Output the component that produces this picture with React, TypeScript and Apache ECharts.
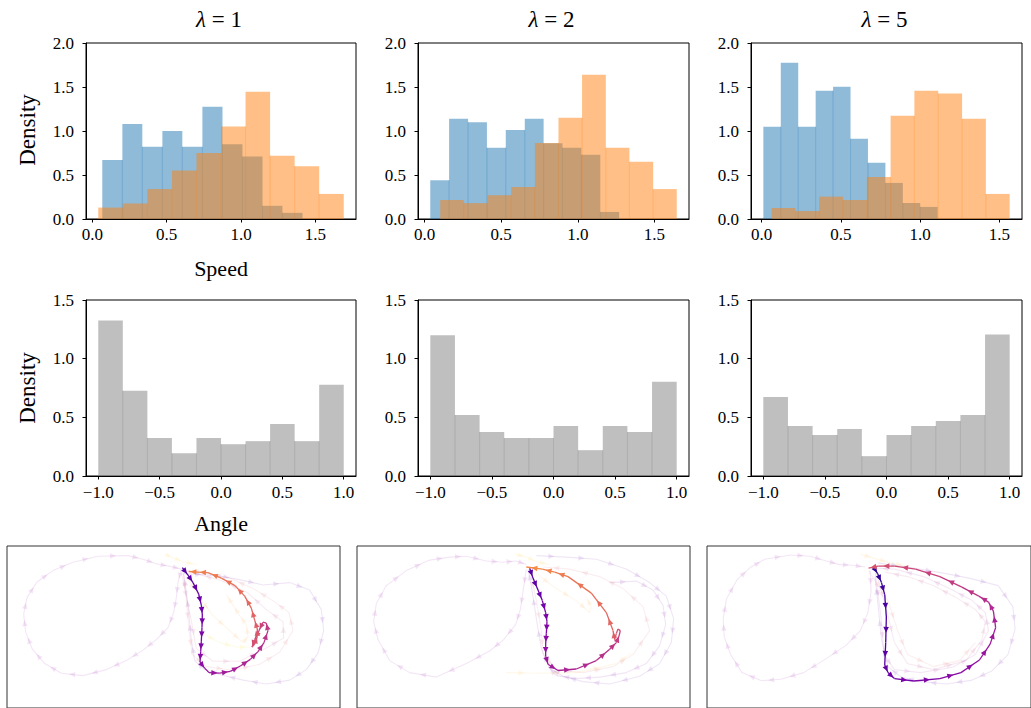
import React, { useEffect, useRef } from 'react';
import * as echarts from 'echarts';

// ---------- tick labels / titles ----------
const speedTicks = [0, 0.5, 1.0, 1.5];
const angleTicks = [-1.0, -0.5, 0.0, 0.5, 1.0];
const lambdaValues = ['1', '2', '5'];

// ---------- speed histograms (blue = C0, orange = C1) ----------
const speedBlueEdges1 = [0.067, 0.202, 0.336, 0.471, 0.605, 0.740, 0.875, 1.009, 1.144, 1.278, 1.413];
const speedBlueHeights1 = [0.67, 1.08, 0.82, 1.00, 0.82, 1.275, 0.85, 0.71, 0.15, 0.07];
const speedOrangeEdges1 = [0.040, 0.205, 0.370, 0.535, 0.700, 0.865, 1.030, 1.195, 1.360, 1.525, 1.690];
const speedOrangeHeights1 = [0.13, 0.175, 0.34, 0.55, 0.75, 1.05, 1.445, 0.72, 0.60, 0.285];

const speedBlueEdges2 = [0.037, 0.160, 0.284, 0.407, 0.530, 0.654, 0.777, 0.900, 1.023, 1.147, 1.270];
const speedBlueHeights2 = [0.44, 1.14, 1.10, 0.81, 1.01, 1.14, 0.86, 0.81, 0.73, 0.08];
const speedOrangeEdges2 = [0.102, 0.256, 0.411, 0.565, 0.720, 0.874, 1.028, 1.183, 1.337, 1.492, 1.646];
const speedOrangeHeights2 = [0.216, 0.18, 0.27, 0.364, 0.865, 1.15, 1.64, 0.81, 0.65, 0.34];

const speedBlueEdges3 = [0.011, 0.121, 0.231, 0.341, 0.451, 0.561, 0.671, 0.781, 0.891, 1.001, 1.111];
const speedBlueHeights3 = [1.047, 1.776, 1.047, 1.457, 1.503, 0.911, 0.638, 0.41, 0.182, 0.137];
const speedOrangeEdges3 = [0.063, 0.213, 0.363, 0.514, 0.664, 0.814, 0.964, 1.114, 1.265, 1.415, 1.565];
const speedOrangeHeights3 = [0.125, 0.09, 0.254, 0.216, 0.478, 1.173, 1.457, 1.427, 1.138, 0.285];

const speedXRange1 = [-0.0425, 1.7725];
const speedXRange2 = [-0.043, 1.726];
const speedXRange3 = [-0.067, 1.643];

// ---------- angle histograms ----------
const angleEdges = [-1.0, -0.8, -0.6, -0.4, -0.2, 0.0, 0.2, 0.4, 0.6, 0.8, 1.0];
const angleHeights1 = [1.326, 0.726, 0.323, 0.194, 0.323, 0.271, 0.297, 0.443, 0.297, 0.777];
const angleHeights2 = [1.20, 0.52, 0.374, 0.323, 0.323, 0.426, 0.22, 0.426, 0.374, 0.803];
const angleHeights3 = [0.674, 0.426, 0.349, 0.40, 0.169, 0.349, 0.426, 0.469, 0.52, 1.206];

// ---------- trajectories (x, y in panel units) ----------
const traj1Highlight = [[548,90],[565,115],[580,140],[597,178],[605,215],[608,248],[607,290],[605,335],[603,370],[601,405],[615,425],[628,440],[660,442],[692,436],[722,418],[752,396],[775,370],[793,340],[805,300],[800,275],[790,272],[778,300],[765,330],[757,355],[765,345],[773,320],[773,295],[765,265],[755,225],[735,185],[706,150],[665,125],[625,107],[595,105],[567,103]];
const traj1Faded = [
  [[545,95],[535,140],[530,190],[522,240],[505,290],[470,330],[430,365],[380,400],[320,430],[250,450],[185,442],[135,410],[98,362],[78,305],[72,245],[82,190],[112,138],[160,100],[220,72],[295,52],[385,50],[430,62],[472,78],[512,86],[545,95]],
  [[552,110],[640,115],[720,130],[790,148],[870,140],[930,165],[965,230],[972,300],[955,375],[920,430],[870,465],[800,478],[730,465],[665,448],[615,430],[585,400],[575,330],[568,250],[560,170],[552,110]],
  [[550,100],[560,200],[568,300],[578,380],[620,420],[700,432],[780,412],[840,372],[880,300],[868,240],[820,200],[760,160],[690,125],[620,108],[555,100]],
  [[545,105],[572,250],[590,360],[640,402],[720,402],[800,358],[852,325],[850,270],[800,230],[742,172],[662,132],[590,110]],
  [[560,120],[600,190],[640,250],[690,300],[730,340],[745,320],[740,280],[720,250],[700,215],[680,180]],
  [[495,45],[520,58],[550,70],[590,80]],
  [[610,310],[660,340],[710,355],[750,355]],
];
const traj1FadedT = [0.3, 0.2, 0.55, 0.45, 0.8, 0.9, 0.95];

const traj2Highlight = [[540,92],[550,125],[565,165],[578,200],[588,240],[592,270],[590,310],[588,345],[588,385],[595,412],[625,433],[680,428],[740,400],[780,362],[800,340],[808,318],[812,300],[805,295],[800,310],[795,330],[790,300],[770,240],[725,175],[655,120],[615,105],[578,95],[530,88]];
const traj2Faded = [
  [[530,95],[520,170],[512,230],[498,280],[462,330],[420,368],[350,410],[260,455],[180,440],[120,400],[85,330],[72,270],[80,210],[110,150],[170,100],[240,65],[300,55],[350,52],[410,68],[460,72],[500,68],[530,80]],
  [[560,50],[650,55],[740,62],[830,95],[900,140],[950,185],[972,260],[965,340],[930,410],[870,452],[780,478],[700,470],[640,452],[600,425],[575,360],[560,260],[545,150],[535,95]],
  [[780,140],[860,135],[910,165],[940,215],[948,280],[930,350],[890,410],[830,440],[750,455],[680,460],[620,450],[595,420]],
  [[540,95],[560,200],[575,300],[580,380],[620,430],[700,440],[790,420],[850,380],[900,300],[880,220],[820,160],[750,120],[660,95],[580,88]],
  [[470,440],[560,442],[680,440],[800,410],[845,375]],
  [[560,110],[620,160],[680,200],[720,240],[725,220],[710,190]],
  [[495,45],[530,55],[560,70],[600,80]],
];
const traj2FadedT = [0.3, 0.2, 0.25, 0.55, 0.85, 0.8, 0.9];

const traj3Highlight = [[535,87],[548,110],[560,140],[570,180],[575,255],[573,340],[570,415],[580,440],[600,460],[660,468],[740,460],[805,440],[862,398],[895,345],[912,290],[905,235],[890,205],[860,185],[808,155],[740,120],[665,95],[600,85],[550,85],[520,92]];
const traj3Faded = [
  [[525,100],[528,170],[518,240],[495,300],[450,350],[380,400],[320,440],[250,462],[190,467],[130,440],[95,380],[75,320],[72,260],[82,195],[115,130],[155,90],[200,62],[280,48],[340,52],[390,68],[430,80],[470,82],[510,88]],
  [[550,75],[650,90],[760,110],[830,125],[920,150],[965,220],[972,295],[950,380],[900,435],[840,465],[760,478],[680,470],[620,455],[580,420],[560,330],[550,220],[540,120]],
  [[540,100],[558,250],[568,380],[600,430],[680,440],[780,422],[850,380],[890,300],[880,240],[840,200],[770,160],[690,120],[600,95],[545,92]],
  [[545,110],[580,250],[600,340],[640,410],[720,430],[820,400],[870,330],[880,270],[850,230],[790,190],[720,150],[640,120],[570,105]],
  [[520,100],[580,200],[610,300],[640,380],[720,420],[800,400],[850,340]],
  [[495,45],[540,60],[590,75],[640,85]],
];
const traj3FadedT = [0.3, 0.2, 0.35, 0.45, 0.6, 0.85];

const highlightT = [[0.15, 0.70], [0.15, 0.72], [0.05, 0.55]];

// ---------- styling helpers ----------
const PLASMA = ['#0d0887', '#41049d', '#6a00a8', '#8f0da4', '#b12a90', '#cc4778', '#e16462', '#f2844b', '#fca636', '#fcce25', '#f0f921'];
function hexRgb(h: string) {
  return [parseInt(h.slice(1, 3), 16), parseInt(h.slice(3, 5), 16), parseInt(h.slice(5, 7), 16)];
}
function plasma(t: number, a: number) {
  const tt = Math.max(0, Math.min(1, t)) * (PLASMA.length - 1);
  const i = Math.min(PLASMA.length - 2, Math.floor(tt));
  const f = tt - i;
  const c0 = hexRgb(PLASMA[i]);
  const c1 = hexRgb(PLASMA[i + 1]);
  const c = c0.map((v, k) => Math.round(v + (c1[k] - v) * f));
  return `rgba(${c[0]},${c[1]},${c[2]},${a})`;
}

const FONT = 'Liberation Serif';
const fmt = (v: number) => (v < 0 ? '\u2212' + Math.abs(v).toFixed(1) : v.toFixed(1));

const colLefts = [86, 418, 751];
const colWidths = [270, 271, 271];
const bottomLefts = [7, 357, 707];

function histSeries(gi: number, edges: number[], heights: number[], fill: string, edge: string) {
  return {
    type: 'custom',
    xAxisIndex: gi,
    yAxisIndex: gi,
    silent: true,
    z: 2,
    encode: { x: [0, 1], y: 2 },
    data: heights.map((h, i) => [edges[i], edges[i + 1], h, i > 0 ? Math.min(h, heights[i - 1]) : 0]),
    renderItem: (params: any, api: any) => {
      const p0 = api.coord([api.value(0), api.value(2)]);
      const p1 = api.coord([api.value(1), 0]);
      const pe = api.coord([api.value(0), api.value(3)]);
      return {
        type: 'group',
        children: [
          {
            type: 'rect',
            shape: { x: p0[0], y: p0[1], width: p1[0] - p0[0], height: p1[1] - p0[1] },
            style: { fill },
          },
          {
            type: 'line',
            shape: { x1: p0[0], y1: pe[1], x2: p0[0], y2: p1[1] },
            style: { stroke: edge, lineWidth: 0.7 },
          },
        ],
      };
    },
  };
}

function trajSeries(gi: number, faded: number[][][], fadedT: number[], hl: number[][], hlT: number[]) {
  const segs: any[] = [];
  faded.forEach((path, pi) => {
    for (let i = 0; i < path.length - 1; i++) {
      segs.push([path[i][0], path[i][1], path[i + 1][0], path[i + 1][1], fadedT[pi], 0.1, 1.1]);
    }
  });
  const n = hl.length - 1;
  for (let i = 0; i < n; i++) {
    const t = hlT[0] + (hlT[1] - hlT[0]) * (i / Math.max(1, n - 1));
    segs.push([hl[i][0], hl[i][1], hl[i + 1][0], hl[i + 1][1], t, 1, 1.3]);
  }
  return {
    type: 'custom',
    xAxisIndex: gi,
    yAxisIndex: gi,
    silent: true,
    z: 2,
    data: segs,
    renderItem: (params: any, api: any) => {
      const a = api.coord([api.value(0), api.value(1)]);
      const b = api.coord([api.value(2), api.value(3)]);
      const col = plasma(api.value(4), api.value(5));
      const lw = api.value(6);
      const dx = b[0] - a[0];
      const dy = b[1] - a[1];
      const len = Math.hypot(dx, dy) || 1;
      const ux = dx / len;
      const uy = dy / len;
      const mx = (a[0] + b[0]) / 2;
      const my = (a[1] + b[1]) / 2;
      const L = 6;
      const W = 2.8;
      const tip = [mx + (ux * L) / 2, my + (uy * L) / 2];
      const base = [mx - (ux * L) / 2, my - (uy * L) / 2];
      const q1 = [base[0] - uy * W, base[1] + ux * W];
      const q2 = [base[0] + uy * W, base[1] - ux * W];
      const children: any[] = [
        { type: 'line', shape: { x1: a[0], y1: a[1], x2: b[0], y2: b[1] }, style: { stroke: col, lineWidth: lw } },
      ];
      if (len > 7) {
        children.push({ type: 'polygon', shape: { points: [tip, q1, q2] }, style: { fill: col } });
      }
      return { type: 'group', children };
    },
  };
}

function buildOption() {
  const grids: any[] = [];
  const xAxes: any[] = [];
  const yAxes: any[] = [];
  const series: any[] = [];
  const axisLineStyle = { color: '#000', width: 1 };
  const lbl = { show: true, fontFamily: FONT, fontSize: 17, color: '#000', formatter: fmt };

  const speedRanges = [speedXRange1, speedXRange2, speedXRange3];
  // top row
  for (let c = 0; c < 3; c++) {
    grids.push({ left: colLefts[c], top: 43, width: colWidths[c], height: 176, show: true, borderColor: '#000', borderWidth: 1, containLabel: false });
    xAxes.push({
      gridIndex: c, type: 'value', min: speedRanges[c][0], max: speedRanges[c][1], z: 5,
      axisLine: { show: true, onZero: false, lineStyle: axisLineStyle },
      splitLine: { show: false },
      axisTick: { show: true, length: 3.5, lineStyle: axisLineStyle, customValues: speedTicks },
      axisLabel: { ...lbl, margin: 7, customValues: speedTicks },
    });
    yAxes.push({
      gridIndex: c, type: 'value', min: 0, max: 2, interval: 0.5, z: 5,
      axisLine: { show: true, onZero: false, lineStyle: axisLineStyle },
      splitLine: { show: false },
      axisTick: { show: true, length: 3.5, lineStyle: axisLineStyle },
      axisLabel: { ...lbl, margin: 12 },
    });
  }
  // middle row
  for (let c = 0; c < 3; c++) {
    grids.push({ left: colLefts[c], top: 300, width: colWidths[c], height: 176, show: true, borderColor: '#000', borderWidth: 1 });
    xAxes.push({
      gridIndex: 3 + c, type: 'value', min: -1.1, max: 1.1, z: 5,
      axisLine: { show: true, onZero: false, lineStyle: axisLineStyle },
      splitLine: { show: false },
      axisTick: { show: true, length: 3.5, lineStyle: axisLineStyle, customValues: angleTicks },
      axisLabel: { ...lbl, margin: 8, customValues: angleTicks },
    });
    yAxes.push({
      gridIndex: 3 + c, type: 'value', min: 0, max: 1.5, interval: 0.5, z: 5,
      axisLine: { show: true, onZero: false, lineStyle: axisLineStyle },
      splitLine: { show: false },
      axisTick: { show: true, length: 3.5, lineStyle: axisLineStyle },
      axisLabel: { ...lbl, margin: 12 },
    });
  }
  // bottom row
  for (let c = 0; c < 3; c++) {
    grids.push({ left: bottomLefts[c], top: 546, width: 333, height: 180, show: true, borderColor: '#333', borderWidth: 1 });
    xAxes.push({ gridIndex: 6 + c, type: 'value', min: 22, max: 1021, show: false });
    yAxes.push({ gridIndex: 6 + c, type: 'value', min: 18, max: 558, inverse: true, show: false });
  }

  const BLUE = 'rgba(31,119,180,0.5)';
  const ORANGE = 'rgba(255,127,14,0.5)';
  const GRAY = 'rgba(128,128,128,0.5)';
  series.push(histSeries(0, speedBlueEdges1, speedBlueHeights1, BLUE, 'rgba(31,119,180,0.45)'));
  series.push(histSeries(0, speedOrangeEdges1, speedOrangeHeights1, ORANGE, 'rgba(255,127,14,0.4)'));
  series.push(histSeries(1, speedBlueEdges2, speedBlueHeights2, BLUE, 'rgba(31,119,180,0.45)'));
  series.push(histSeries(1, speedOrangeEdges2, speedOrangeHeights2, ORANGE, 'rgba(255,127,14,0.4)'));
  series.push(histSeries(2, speedBlueEdges3, speedBlueHeights3, BLUE, 'rgba(31,119,180,0.45)'));
  series.push(histSeries(2, speedOrangeEdges3, speedOrangeHeights3, ORANGE, 'rgba(255,127,14,0.4)'));
  series.push(histSeries(3, angleEdges, angleHeights1, GRAY, 'rgba(128,128,128,0.5)'));
  series.push(histSeries(4, angleEdges, angleHeights2, GRAY, 'rgba(128,128,128,0.5)'));
  series.push(histSeries(5, angleEdges, angleHeights3, GRAY, 'rgba(128,128,128,0.5)'));

  series.push(trajSeries(6, traj1Faded, traj1FadedT, traj1Highlight, highlightT[0]));
  series.push(trajSeries(7, traj2Faded, traj2FadedT, traj2Highlight, highlightT[1]));
  series.push(trajSeries(8, traj3Faded, traj3FadedT, traj3Highlight, highlightT[2]));

  const titleCenters = colLefts.map((l, i) => l + colWidths[i] / 2);
  const graphics: any[] = [];
  lambdaValues.forEach((v, i) => {
    graphics.push({
      type: 'text', x: titleCenters[i] - 2, y: 19,
      style: {
        text: `{i|\u03bb} = ${v}`,
        fontFamily: FONT, fontSize: 23, fill: '#000', align: 'center', verticalAlign: 'middle',
        rich: { i: { fontFamily: FONT, fontSize: 23, fontStyle: 'italic', fill: '#000' } },
      },
    });
  });
  graphics.push({ type: 'text', x: 27, y: 130, rotation: Math.PI / 2, style: { text: 'Density', fontFamily: FONT, fontSize: 23, fill: '#000', align: 'center', verticalAlign: 'middle' } });
  graphics.push({ type: 'text', x: 27, y: 388, rotation: Math.PI / 2, style: { text: 'Density', fontFamily: FONT, fontSize: 23, fill: '#000', align: 'center', verticalAlign: 'middle' } });
  graphics.push({ type: 'text', x: 221, y: 268, style: { text: 'Speed', fontFamily: FONT, fontSize: 22, fill: '#000', align: 'center', verticalAlign: 'middle' } });
  graphics.push({ type: 'text', x: 221, y: 523, style: { text: 'Angle', fontFamily: FONT, fontSize: 22, fill: '#000', align: 'center', verticalAlign: 'middle' } });

  return {
    animation: false,
    backgroundColor: '#fff',
    textStyle: { fontFamily: FONT },
    grid: grids,
    xAxis: xAxes,
    yAxis: yAxes,
    series,
    graphic: graphics,
  };
}

export default function App() {
  const ref = useRef<HTMLDivElement>(null);
  useEffect(() => {
    if (!ref.current) return;
    const chart = echarts.init(ref.current, undefined, { renderer: 'svg' });
    chart.setOption(buildOption() as any);
    return () => chart.dispose();
  }, []);
  return (
    <div
      ref={ref}
      style={{ position: 'fixed', left: 0, top: 0, width: 1031, height: 708, background: '#fff' }}
    />
  );
}
